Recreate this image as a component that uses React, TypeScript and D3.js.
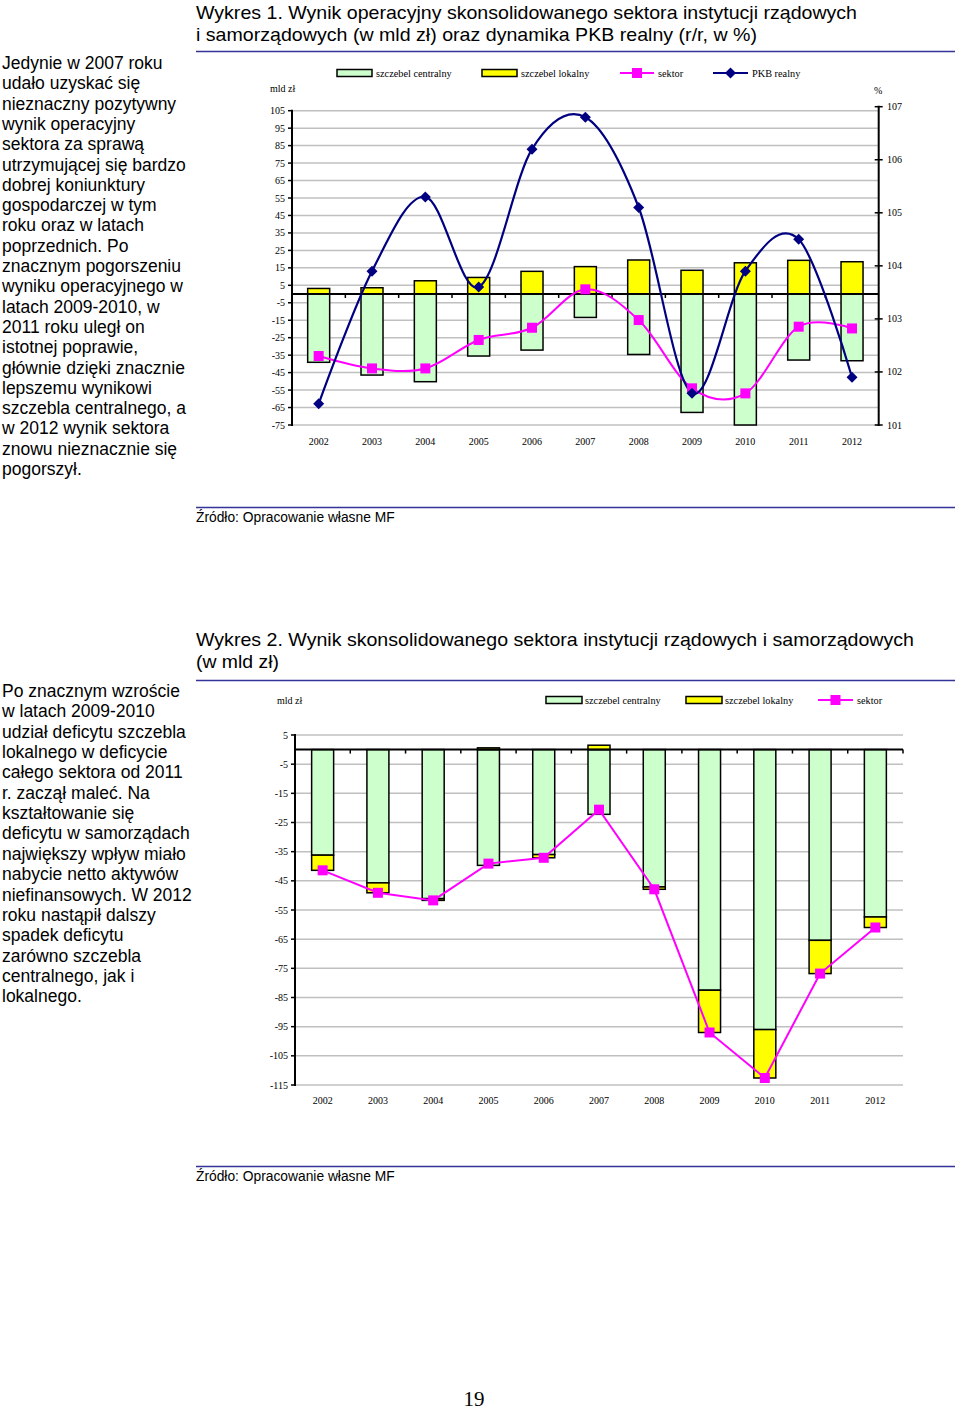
import React from 'react';
import * as d3 from 'd3';

// ---------- Data ----------
const years = ['2002', '2003', '2004', '2005', '2006', '2007', '2008', '2009', '2010', '2011', '2012'];

// Wykres 1 (mld zł, % r/r)
const opCentral = [-39.1, -46.4, -50.2, -35.5, -32.1, -13.4, -34.6, -67.8, -75.0, -37.8, -38.2];
const opLocal = [3.2, 3.6, 7.6, 9.5, 13.0, 15.7, 19.5, 13.6, 17.9, 19.3, 18.5];
const opSector = [-35.5, -42.6, -42.6, -26.3, -19.3, 2.7, -14.9, -54.0, -56.9, -18.7, -19.7];
const gdpReal = [101.4, 103.9, 105.3, 103.6, 106.2, 106.8, 105.1, 101.6, 103.9, 104.5, 101.9];
const leftTicks1 = [105, 95, 85, 75, 65, 55, 45, 35, 25, 15, 5, -5, -15, -25, -35, -45, -55, -65, -75];
const rightTicks1 = [101, 102, 103, 104, 105, 106, 107];

// Wykres 2 (mld zł)
const defCentral = [-36.2, -45.7, -51.1, -39.7, -36.0, -22.2, -47.1, -82.5, -96.0, -65.4, -57.4];
const defLocal = [-5.2, -3.4, -0.6, 0.6, -1.1, 1.5, -0.8, -14.5, -16.6, -11.4, -3.6];
const defSector = [-41.4, -49.1, -51.7, -39.1, -37.1, -20.6, -47.9, -97.0, -112.6, -76.8, -61.0];
const leftTicks2 = [5, -5, -15, -25, -35, -45, -55, -65, -75, -85, -95, -105, -115];

const para1 = [
  'Jedynie w 2007 roku',
  'udało uzyskać się',
  'nieznaczny pozytywny',
  'wynik operacyjny',
  'sektora za sprawą',
  'utrzymującej się bardzo',
  'dobrej koniunktury',
  'gospodarczej w tym',
  'roku oraz w latach',
  'poprzednich. Po',
  'znacznym pogorszeniu',
  'wyniku operacyjnego w',
  'latach 2009-2010, w',
  '2011 roku uległ on',
  'istotnej poprawie,',
  'głównie dzięki znacznie',
  'lepszemu wynikowi',
  'szczebla centralnego, a',
  'w 2012 wynik sektora',
  'znowu nieznacznie się',
  'pogorszył.',
];
const para2 = [
  'Po znacznym wzroście',
  'w latach 2009-2010',
  'udział deficytu szczebla',
  'lokalnego w deficycie',
  'całego sektora od 2011',
  'r. zaczął maleć. Na',
  'kształtowanie się',
  'deficytu w samorządach',
  'największy wpływ miało',
  'nabycie netto aktywów',
  'niefinansowych. W 2012',
  'roku nastąpił dalszy',
  'spadek deficytu',
  'zarówno szczebla',
  'centralnego, jak i',
  'lokalnego.',
];

// ---------- Styles ----------
const SANS = '"Liberation Sans", Arial, Helvetica, sans-serif';
const SERIF = '"Liberation Serif", "Times New Roman", serif';
const GREEN = '#CCFFCC';
const YELLOW = '#FFFF00';
const MAGENTA = '#FF00FF';
const NAVY = '#000080';
const GRID = '#C0C0C0';
const RULE = '#333399';

const BAR_W = 22;

function Square({ x, y }: { x: number; y: number }) {
  return <rect x={x - 5} y={y - 5} width={10} height={10} fill={MAGENTA} />;
}
function Diamond({ x, y }: { x: number; y: number }) {
  const r = 5.5;
  return <path d={`M${x},${y - r}L${x + r},${y}L${x},${y + r}L${x - r},${y}Z`} fill={NAVY} />;
}

function Chart1() {
  const x = d3.scaleBand().domain(years).range([292, 878.7]);
  const yL = d3.scaleLinear().domain([-75, 105]).range([425, 110.7]);
  const yR = d3.scaleLinear().domain([101, 107]).range([425, 106.7]);
  const cx = (d: string) => (x(d) as number) + x.bandwidth() / 2;
  const x0 = 292;
  const x1 = 878.7;
  const smooth = d3.line<[number, number]>().curve(d3.curveCardinal.tension(0));
  const sectorPts = years.map((d, i) => [cx(d), yL(opSector[i])] as [number, number]);
  const gdpPts = years.map((d, i) => [cx(d), yR(gdpReal[i])] as [number, number]);
  const bounds = years.map((d) => x(d) as number).concat([x1]);

  return (
    <g>
      {leftTicks1.map((t) => (
        <line key={t} x1={x0} x2={x1} y1={yL(t)} y2={yL(t)} stroke={GRID} strokeWidth={1.5} />
      ))}
      {years.map((d, i) => (
        <g key={d}>
          <rect x={cx(d) - BAR_W / 2} y={yL(0)} width={BAR_W} height={yL(opCentral[i]) - yL(0)}
            fill={GREEN} stroke="#000" strokeWidth={1.5} />
          <rect x={cx(d) - BAR_W / 2} y={yL(opLocal[i])} width={BAR_W} height={yL(0) - yL(opLocal[i])}
            fill={YELLOW} stroke="#000" strokeWidth={1.5} />
        </g>
      ))}
      <line x1={x0} x2={x1} y1={yL(0)} y2={yL(0)} stroke="#000" strokeWidth={2} />
      {bounds.slice(1, -1).map((b, i) => (
        <line key={i} x1={b} x2={b} y1={yL(0)} y2={yL(0) + 4} stroke="#000" strokeWidth={1.5} />
      ))}
      <line x1={x0} x2={x0} y1={yL(105) - 1} y2={yL(-75) + 1} stroke="#000" strokeWidth={2} />
      {leftTicks1.map((t) => (
        <g key={t}>
          <line x1={x0 - 4} x2={x0} y1={yL(t)} y2={yL(t)} stroke="#000" strokeWidth={1.5} />
          <text x={285} y={yL(t)} dy="0.35em" textAnchor="end" fontFamily={SERIF} fontSize={10}>{t}</text>
        </g>
      ))}
      <line x1={x1} x2={x1} y1={yR(107) - 1} y2={yR(101) + 1} stroke="#000" strokeWidth={2} />
      {rightTicks1.map((t) => (
        <g key={t}>
          <line x1={x1 - 4} x2={x1 + 4} y1={yR(t)} y2={yR(t)} stroke="#000" strokeWidth={1.5} />
          <text x={887} y={yR(t)} dy="0.35em" fontFamily={SERIF} fontSize={10}>{t}</text>
        </g>
      ))}
      {years.map((d) => (
        <text key={d} x={cx(d)} y={441} dy="0.35em" textAnchor="middle" fontFamily={SERIF} fontSize={10}>{d}</text>
      ))}
      <path d={smooth(sectorPts) || ''} fill="none" stroke={MAGENTA} strokeWidth={2} />
      <path d={smooth(gdpPts) || ''} fill="none" stroke={NAVY} strokeWidth={2.2} />
      {sectorPts.map((p, i) => <Square key={i} x={p[0]} y={p[1]} />)}
      {gdpPts.map((p, i) => <Diamond key={i} x={p[0]} y={p[1]} />)}
      <text x={270} y={88} dy="0.35em" fontFamily={SERIF} fontSize={10}>mld zł</text>
      <text x={874} y={90} dy="0.35em" fontFamily={SERIF} fontSize={10}>%</text>
      <g fontFamily={SERIF} fontSize={10.3}>
        <rect x={337} y={69.5} width={35} height={7} fill={GREEN} stroke="#000" strokeWidth={1.5} />
        <text x={376} y={73} dy="0.35em">szczebel centralny</text>
        <rect x={482} y={69.5} width={35} height={7} fill={YELLOW} stroke="#000" strokeWidth={1.5} />
        <text x={521} y={73} dy="0.35em">szczebel lokalny</text>
        <line x1={620} x2={654} y1={73} y2={73} stroke={MAGENTA} strokeWidth={2} />
        <Square x={637} y={73} />
        <text x={658} y={73} dy="0.35em">sektor</text>
        <line x1={713} x2={748} y1={73} y2={73} stroke={NAVY} strokeWidth={2} />
        <Diamond x={730.5} y={73} />
        <text x={752} y={73} dy="0.35em">PKB realny</text>
      </g>
    </g>
  );
}

function Chart2() {
  const x = d3.scaleBand().domain(years).range([295, 903]);
  const y = d3.scaleLinear().domain([-115, 5]).range([1085, 735]);
  const cx = (d: string) => (x(d) as number) + x.bandwidth() / 2;
  const x0 = 295;
  const x1 = 903;
  const line = d3.line<[number, number]>();
  const sectorPts = years.map((d, i) => [cx(d), y(defSector[i])] as [number, number]);
  const bounds = years.map((d) => x(d) as number).concat([x1]);

  return (
    <g>
      {leftTicks2.map((t) => (
        <line key={t} x1={x0} x2={x1} y1={y(t)} y2={y(t)} stroke={GRID} strokeWidth={1.5} />
      ))}
      {years.map((d, i) => {
        const c = defCentral[i];
        const l = defLocal[i];
        const localTop = l >= 0 ? l : c;
        const localBot = l >= 0 ? 0 : c + l;
        return (
          <g key={d}>
            <rect x={cx(d) - BAR_W / 2} y={y(0)} width={BAR_W} height={y(c) - y(0)}
              fill={GREEN} stroke="#000" strokeWidth={1.5} />
            <rect x={cx(d) - BAR_W / 2} y={y(localTop)} width={BAR_W} height={y(localBot) - y(localTop)}
              fill={YELLOW} stroke="#000" strokeWidth={1.5} />
          </g>
        );
      })}
      <line x1={x0} x2={x1} y1={y(0)} y2={y(0)} stroke="#000" strokeWidth={2} />
      {bounds.slice(1).map((b, i) => (
        <line key={i} x1={b} x2={b} y1={y(0)} y2={y(0) + 4} stroke="#000" strokeWidth={1.5} />
      ))}
      <line x1={x0} x2={x0} y1={y(5) - 1} y2={y(-115) + 1} stroke="#000" strokeWidth={2} />
      {leftTicks2.map((t) => (
        <g key={t}>
          <line x1={x0 - 4} x2={x0} y1={y(t)} y2={y(t)} stroke="#000" strokeWidth={1.5} />
          <text x={288} y={y(t)} dy="0.35em" textAnchor="end" fontFamily={SERIF} fontSize={10}>{t}</text>
        </g>
      ))}
      {years.map((d) => (
        <text key={d} x={cx(d)} y={1100} dy="0.35em" textAnchor="middle" fontFamily={SERIF} fontSize={10}>{d}</text>
      ))}
      <path d={line(sectorPts) || ''} fill="none" stroke={MAGENTA} strokeWidth={2} />
      {sectorPts.map((p, i) => <Square key={i} x={p[0]} y={p[1]} />)}
      <text x={277} y={700} dy="0.35em" fontFamily={SERIF} fontSize={10}>mld zł</text>
      <g fontFamily={SERIF} fontSize={10.3}>
        <rect x={546} y={696.5} width={36} height={7} fill={GREEN} stroke="#000" strokeWidth={1.5} />
        <text x={585} y={700} dy="0.35em">szczebel centralny</text>
        <rect x={686} y={696.5} width={36} height={7} fill={YELLOW} stroke="#000" strokeWidth={1.5} />
        <text x={725} y={700} dy="0.35em">szczebel lokalny</text>
        <line x1={818} x2={853} y1={700} y2={700} stroke={MAGENTA} strokeWidth={2} />
        <Square x={835.5} y={700} />
        <text x={857} y={700} dy="0.35em">sektor</text>
      </g>
    </g>
  );
}

export default function App() {
  return (
    <svg width={960} height={1411} style={{ position: 'absolute', left: 0, top: 0, background: '#fff' }}>
      <rect x={0} y={0} width={960} height={1411} fill="#fff" />
      <g fontFamily={SANS} fontSize={19} fill="#000">
        <text x={196} y={19} textLength={661} lengthAdjust="spacingAndGlyphs">Wykres 1. Wynik operacyjny skonsolidowanego sektora instytucji rządowych</text>
        <text x={196} y={41} textLength={561} lengthAdjust="spacingAndGlyphs">i samorządowych (w mld zł) oraz dynamika PKB realny (r/r, w %)</text>
        <text x={196} y={646} textLength={718} lengthAdjust="spacingAndGlyphs">Wykres 2. Wynik skonsolidowanego sektora instytucji rządowych i samorządowych</text>
        <text x={196} y={668} textLength={83} lengthAdjust="spacingAndGlyphs">(w mld zł)</text>
      </g>
      <line x1={196} x2={955} y1={51.5} y2={51.5} stroke={RULE} strokeWidth={1.5} />
      <line x1={196} x2={955} y1={507.5} y2={507.5} stroke={RULE} strokeWidth={1.5} />
      <line x1={196} x2={955} y1={680.5} y2={680.5} stroke={RULE} strokeWidth={1.5} />
      <line x1={196} x2={955} y1={1166.5} y2={1166.5} stroke={RULE} strokeWidth={1.5} />
      <g fontFamily={SANS} fontSize={13.8}>
        <text x={196} y={522}>Źródło: Opracowanie własne MF</text>
        <text x={196} y={1181}>Źródło: Opracowanie własne MF</text>
      </g>
      <g fontFamily={SANS} fontSize={17.5}>
        {para1.map((s, i) => (
          <text key={i} x={2} y={69 + i * 20.3}>{s}</text>
        ))}
        {para2.map((s, i) => (
          <text key={i} x={2} y={697 + i * 20.35}>{s}</text>
        ))}
      </g>
      <Chart1 />
      <Chart2 />
      <text x={474} y={1406} textAnchor="middle" fontFamily={SERIF} fontSize={21}>19</text>
    </svg>
  );
}
